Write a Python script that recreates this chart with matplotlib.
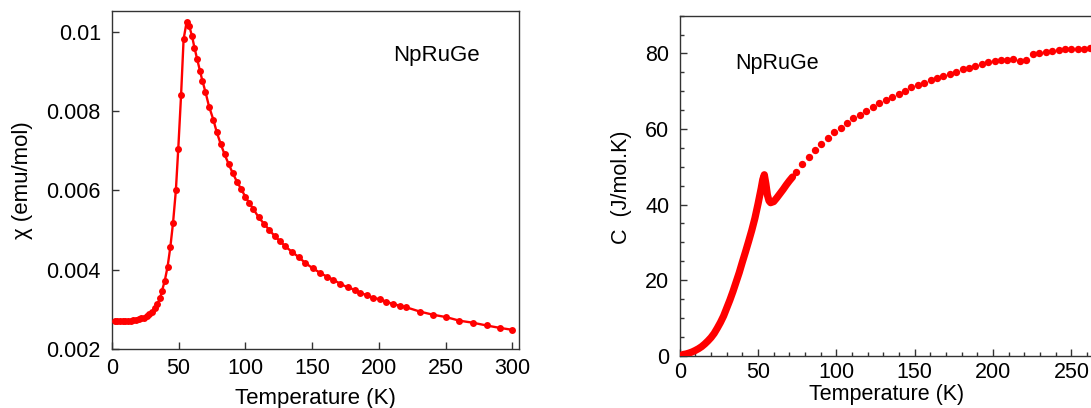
import matplotlib
matplotlib.use("Agg")
import matplotlib.pyplot as plt
from matplotlib.ticker import FixedLocator, MultipleLocator, FuncFormatter

plt.rcParams.update({
    "font.family": ["Liberation Sans", "DejaVu Sans"],
    "font.size": 15.5,
    "axes.linewidth": 1.0,
    "axes.edgecolor": "#333333",
})

# ---- susceptibility data (left panel) ----
chi_T = [2, 4, 6, 8, 10, 12, 14, 16, 18, 20, 22, 24, 26, 28, 30, 32, 34, 36,
         37.5, 39.6, 41.7, 43.75, 45.8, 47.9, 49.7, 51.8, 53.7, 56, 58, 60,
         61.8, 63.9, 65.9, 67.8, 70, 72.8, 76, 78.6, 81.5, 84.4, 87.5, 90.6,
         93.7, 96.9, 100, 103, 106, 110, 114, 118, 122, 126, 130, 135, 140,
         145, 150.5, 155.7, 161, 166, 171, 176.6, 181.8, 185.7, 191, 195.6,
         200.5, 205.7, 210.4, 215.6, 220.3, 230.7, 240.6, 250.5, 260.4,
         270.3, 280.7, 290.4, 300]
chi_val = [0.00270, 0.00270, 0.00271, 0.00271, 0.00271, 0.00272, 0.00272,
           0.00273, 0.00274, 0.00276, 0.00278, 0.00280, 0.00284, 0.00288,
           0.00294, 0.00303, 0.00314, 0.00328, 0.00347, 0.00373, 0.00408,
           0.00457, 0.00519, 0.00600, 0.00705, 0.00840, 0.00981, 0.01025,
           0.01013, 0.00989, 0.00960, 0.00930, 0.00902, 0.00876, 0.00849,
           0.00811, 0.00778, 0.00746, 0.00717, 0.00691, 0.00666, 0.00643,
           0.00622, 0.00603, 0.00584, 0.00568, 0.00553, 0.00532, 0.00516,
           0.00500, 0.00485, 0.00472, 0.00459, 0.00445, 0.00432, 0.00417,
           0.00404, 0.00393, 0.00383, 0.00375, 0.00365, 0.00356, 0.00350,
           0.00343, 0.00336, 0.00330, 0.00326, 0.00320, 0.00314, 0.00310,
           0.00306, 0.00295, 0.00287, 0.00281, 0.00272, 0.00267, 0.00260,
           0.00254, 0.00249]

# ---- specific heat data (right panel) ----
# dense low-temperature sweep
c_dense_T = [2, 4, 6, 8, 10, 12, 14, 16, 18, 20, 22, 24, 26, 28, 30, 32, 34,
             36, 38, 40, 42, 44, 46, 48, 50, 52, 53, 54, 55, 56, 57, 58, 60,
             62, 64, 66, 68, 70, 72]
c_dense = [0.3, 0.45, 0.7, 1.0, 1.4, 1.85, 2.4, 3.1, 3.9, 4.8, 5.9, 7.3,
           8.8, 10.5, 12.6, 14.7, 17.0, 19.5, 22.0, 24.8, 27.5, 30.3, 33.2,
           36.4, 40.2, 44.3, 46.6, 47.9, 45.5, 42.5, 41.0, 40.5, 40.8, 41.8,
           42.9, 44.0, 45.2, 46.3, 47.3]
# sparse high-temperature points
c_sparse_T = [74, 78.2, 82.4, 86.4, 90.4, 94.4, 98.4, 102.7, 106.9, 110.9,
              115.1, 119.1, 123.1, 127.3, 131.6, 135.6, 139.8, 143.8, 147.8,
              152, 156.2, 160.2, 164.2, 168.2, 172.2, 176.4, 180.7, 184.7,
              188.7, 192.7, 196.7, 200.9, 205, 209, 213, 217.3, 221.3, 225.6,
              229.6, 233.6, 237.6, 241.8, 245.8, 249.8, 254, 258, 262]
c_sparse = [48.7, 50.7, 52.5, 54.4, 56.1, 57.7, 59.1, 60.4, 61.7, 63.0,
            63.8, 64.9, 65.9, 66.8, 67.8, 68.6, 69.4, 70.2, 71.0, 71.7,
            72.3, 72.9, 73.5, 74.1, 74.6, 75.2, 75.8, 76.2, 76.7, 77.2,
            77.7, 78.0, 78.2, 78.4, 78.6, 78.1, 78.3, 79.9, 80.2, 80.4,
            80.6, 80.9, 81.1, 81.1, 81.1, 81.3, 81.5]

RED = "#ff0000"

fig = plt.figure(figsize=(10.91, 4.08), dpi=100)

# ---------------- left: chi(T) ----------------
ax1 = fig.add_axes([0.1026, 0.1439, 0.3731, 0.8292])
ax1.plot(chi_T, chi_val, color=RED, lw=1.7, marker="o", ms=5.0,
         markeredgewidth=0, zorder=3)
ax1.set_xlim(0, 305)
ax1.set_ylim(0.002, 0.01052)
ax1.xaxis.set_major_locator(FixedLocator([0, 50, 100, 150, 200, 250, 300]))
ax1.yaxis.set_major_locator(FixedLocator([0.002, 0.004, 0.006, 0.008, 0.01]))
ax1.yaxis.set_major_formatter(FuncFormatter(lambda v, p: "%g" % round(v, 4)))
ax1.tick_params(direction="in", length=5, width=1.0, color="#333333",
                labelsize=15.5)
ax1.tick_params(axis="y", pad=8)
ax1.tick_params(axis="x", pad=6)
ax1.set_xlabel("Temperature (K)", fontsize=16)
ax1.set_ylabel("χ (emu/mol)", fontsize=16)
ax1.xaxis.label.set_verticalalignment("baseline")
ax1.xaxis.set_label_coords(0.5, -0.1617)
ax1.yaxis.set_label_coords(-0.194, 0.5)
ax1.text(210.4, 0.00927, "NpRuGe", fontsize=16, ha="left", va="baseline")

# ---------------- right: C(T) ----------------
ax2 = fig.add_axes([0.623, 0.1282, 0.4309, 0.8333])
ax2.plot(c_dense_T, c_dense, color=RED, lw=5.2, solid_capstyle="round",
         solid_joinstyle="round", zorder=3)
ax2.plot(c_sparse_T, c_sparse, ls="none", color=RED, marker="o", ms=5.3,
         markeredgewidth=0, zorder=3)
ax2.set_xlim(0, 300)
ax2.set_ylim(0, 90)
ax2.xaxis.set_major_locator(FixedLocator([0, 50, 100, 150, 200, 250]))
ax2.xaxis.set_minor_locator(MultipleLocator(10))
ax2.yaxis.set_major_locator(FixedLocator([0, 20, 40, 60, 80]))
ax2.yaxis.set_minor_locator(MultipleLocator(5))
ax2.tick_params(which="major", direction="in", length=5, width=1.0,
                color="#333333", labelsize=15.5)
ax2.tick_params(which="minor", direction="in", length=3, width=1.0,
                color="#333333")
ax2.tick_params(axis="y", which="major", pad=7.5)
ax2.tick_params(axis="x", which="major", pad=4.5)
ax2.set_xlabel("Temperature (K)", fontsize=15.5)
ax2.set_ylabel("C  (J/mol.K)", fontsize=15.5)
ax2.xaxis.label.set_verticalalignment("baseline")
ax2.xaxis.set_label_coords(0.441, -0.130)
ax2.yaxis.set_label_coords(-0.1015, 0.495)
ax2.text(35.7, 76.0, "NpRuGe", fontsize=15.5, ha="left", va="baseline")

fig.savefig("out.png", dpi=100)
